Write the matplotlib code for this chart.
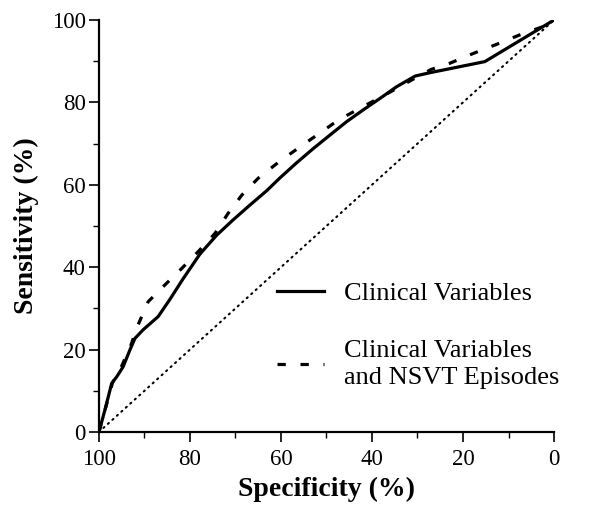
import matplotlib
matplotlib.use('Agg')
import matplotlib.pyplot as plt
from matplotlib.ticker import MultipleLocator

# ROC curves
spec_clin = [100, 98.7, 97.2, 96.1, 94.7, 93.2, 92.1, 90.3, 87.0, 84.4, 81.5, 77.8, 74.1,
             70.5, 66.8, 63.1, 60.2, 56.6, 52.9, 49.2, 45.6, 41.9, 38.2, 34.6, 30.5, 27.3,
             15.2, 0]
sens_clin = [0, 5.3, 11.8, 13.4, 15.8, 19.9, 22.7, 24.8, 28.0, 32.2, 37.2, 43.2, 47.8,
             51.5, 55.1, 58.6, 61.7, 65.3, 68.8, 72.1, 75.3, 78.2, 81.0, 83.8, 86.4, 87.2,
             89.9, 100]

spec_nsvt = [100, 98.5, 97, 95, 93, 91.4, 89.2, 85.5, 81.8, 78.0, 74.5, 71.6, 68.6, 65.0,
             60.4, 56.2, 51.8, 47.4, 42.6, 37.5, 32, 27, 22.9, 17.7, 12.6, 7.5, 2.4, 0]
sens_nsvt = [0, 6, 12, 16, 21, 26, 31.6, 35.7, 39.7, 44.0, 48.2, 53.1, 57.5, 61.6,
             65.6, 68.9, 72.3, 75.7, 78.6, 81.6, 85, 88, 89.5, 91.9, 94.1, 96.4, 98.4, 100]

chance = [100, 0]

plt.rcParams['font.family'] = ['Liberation Serif', 'DejaVu Serif']

fig = plt.figure(figsize=(5.89, 5.05), dpi=100)
ax = fig.add_axes([0.168, 0.1446, 0.7726, 0.8158])

ax.plot(spec_clin, sens_clin, color='black', lw=2.3, label='Clinical Variables')
ax.plot(spec_nsvt, sens_nsvt, color='black', lw=2.3, dashes=(2.6, 4.6),
        label='Clinical Variables\nand NSVT Episodes')
ax.plot(chance, chance[::-1], color='black', lw=1.5, linestyle=(0, (0.6, 2.3)),
        dash_capstyle='round')

ax.set_xlim(100, 0)
ax.set_ylim(0, 100)
ax.xaxis.set_major_locator(MultipleLocator(20))
ax.xaxis.set_minor_locator(MultipleLocator(10))
ax.yaxis.set_major_locator(MultipleLocator(20))
ax.yaxis.set_minor_locator(MultipleLocator(10))

for side in ['top', 'right']:
    ax.spines[side].set_visible(False)
for side in ['left', 'bottom']:
    ax.spines[side].set_linewidth(1.6)

ax.tick_params(which='major', direction='out', length=7.5, width=1.2, labelsize=16.5)
ax.tick_params(axis='x', which='major', pad=5)
ax.tick_params(axis='y', which='major', pad=2)
ax.tick_params(which='minor', direction='out', length=4, width=1.0)

ax.set_xlabel('Specificity (%)', fontsize=20, fontweight='bold', labelpad=5)
ax.set_ylabel('Sensitivity (%)', fontsize=20, fontweight='bold', labelpad=9)

leg = ax.legend(loc='upper left', bbox_to_anchor=(0.470, 0.442), bbox_transform=fig.transFigure,
                frameon=False, fontsize=19, borderpad=0, borderaxespad=0,
                handlelength=1.8, handletextpad=0.75, labelspacing=1.32)
for t in leg.get_texts():
    t.set_linespacing(1.3)

fig.savefig('out.png', dpi=100)
